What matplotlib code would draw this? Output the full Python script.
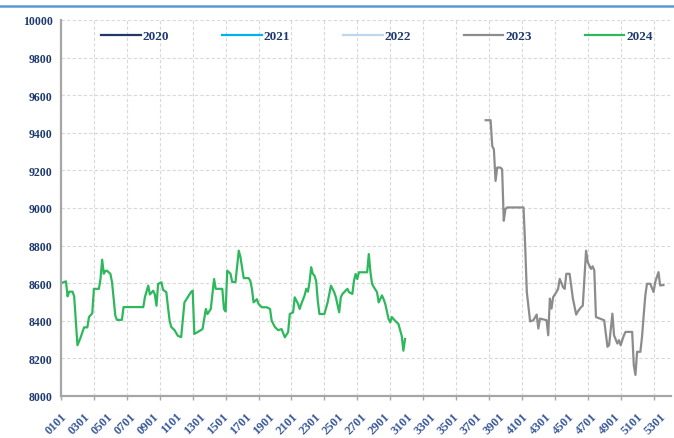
import matplotlib
matplotlib.use("Agg")
import matplotlib.pyplot as plt
from matplotlib.lines import Line2D

# ---------------- data ----------------
years = ["2020", "2021", "2022", "2023", "2024"]
colors = ["#1F3864", "#00B0F0", "#BDD7EE", "#8C8C8C", "#2EB85C"]

# category axis: 53 weeks x 7 days, labelled WWDD
tick_labels = ["0101", "0301", "0501", "0701", "0901", "1101", "1301", "1501",
               "1701", "1901", "2101", "2301", "2501", "2701", "2901", "3101",
               "3301", "3501", "3701", "3901", "4101", "4301", "4501", "4701",
               "4901", "5101", "5301"]
n_days = 371

day_2020, val_2020 = [], []
day_2021, val_2021 = [], []
day_2022, val_2022 = [], []

day_2023 = [258, 261, 262, 263, 264, 265, 267, 268, 269, 270, 271, 281, 282, 283,
            285, 287, 289, 290, 291, 295, 296, 297, 298, 299, 301, 302, 303, 305,
            306, 307, 309, 311, 313, 314, 316, 317, 319, 320, 322, 323, 324, 325,
            330, 332, 333, 335, 336, 338, 339, 340, 341, 342, 343, 347, 348, 349,
            350, 352, 353, 354, 355, 356, 358, 360, 361, 363, 364, 366]
val_2023 = [9467, 9467, 9329, 9312, 9144, 9215, 9215, 9206, 8932, 8994, 9003, 9003,
            8800, 8553, 8397, 8403, 8433, 8359, 8412, 8403, 8323, 8518, 8465, 8526,
            8553, 8570, 8623, 8579, 8570, 8650, 8650, 8518, 8433, 8450, 8473, 8480,
            8773, 8712, 8676, 8690, 8668, 8420, 8403, 8262, 8270, 8438, 8323, 8279,
            8297, 8270, 8297, 8323, 8341, 8341, 8164, 8112, 8235, 8235, 8315, 8429,
            8535, 8597, 8597, 8553, 8606, 8659, 8588, 8590]

day_2024 = [0, 3, 4, 5, 7, 8, 10, 12, 14, 16, 17, 19, 20, 23, 24, 25, 26, 27, 28,
            30, 31, 33, 34, 37, 38, 50, 51, 53, 54, 56, 57, 58, 59, 61, 62, 64, 65,
            66, 67, 69, 71, 73, 75, 77, 79, 80, 81, 83, 86, 88, 89, 91, 93, 94, 98,
            99, 100, 101, 103, 104, 106, 108, 109, 111, 114, 115, 116, 117, 119,
            120, 122, 125, 127, 128, 130, 132, 134, 136, 138, 139, 141, 142, 144,
            145, 146, 148, 149, 150, 151, 152, 153, 154, 155, 156, 157, 160, 162,
            164, 166, 167, 169, 170, 171, 174, 175, 177, 178, 179, 180, 181, 186,
            187, 188, 189, 190, 192, 193, 195, 196, 197, 199, 200, 201, 203, 205,
            207, 208, 209]
val_2024 = [8600, 8610, 8530, 8555, 8555, 8530, 8270, 8313, 8365, 8365, 8420, 8440,
            8570, 8570, 8622, 8725, 8650, 8666, 8666, 8650, 8606, 8427, 8405, 8405,
            8473, 8473, 8527, 8587, 8540, 8560, 8540, 8480, 8596, 8605, 8565, 8552,
            8473, 8400, 8367, 8350, 8320, 8313, 8498, 8525, 8553, 8560, 8330, 8340,
            8356, 8463, 8436, 8463, 8622, 8570, 8570, 8463, 8450, 8667, 8650, 8606,
            8606, 8773, 8740, 8627, 8627, 8613, 8570, 8498, 8515, 8490, 8472, 8472,
            8463, 8400, 8366, 8350, 8356, 8312, 8340, 8436, 8445, 8525, 8490, 8463,
            8490, 8535, 8570, 8555, 8605, 8685, 8650, 8640, 8613, 8507, 8436, 8436,
            8498, 8587, 8552, 8525, 8445, 8525, 8543, 8570, 8552, 8543, 8613, 8649,
            8622, 8658, 8658, 8755, 8658, 8596, 8580, 8552, 8498, 8535, 8515, 8490,
            8410, 8392, 8420, 8400, 8383, 8320, 8241, 8303]

series = [(day_2020, val_2020), (day_2021, val_2021), (day_2022, val_2022),
          (day_2023, val_2023), (day_2024, val_2024)]

y_ticks = list(range(8000, 10001, 200))

# ---------------- figure ----------------
W, H = 674, 439
fig = plt.figure(figsize=(W / 100, H / 100), dpi=100)
ax = fig.add_axes([61 / W, (H - 397) / H, 610 / W, 376 / H])

navy = "#1F3A6E"
xnavy = "#3A5A9A"
for (d, v), c, yr in zip(series, colors, years):
    ax.plot(d, v, color=c, lw=1.6, label=yr, solid_joinstyle="round")

ax.set_xlim(0, 370.6)
ax.set_ylim(8000, 10000)

# gridline ticks every 20 categories, labels every 14 categories (2 weeks)
ax.xaxis.remove_overlapping_locs = False
ax.set_xticks(range(0, n_days, 20))
ax.set_xticklabels([])
label_pos = [(int(t[:2]) - 1) * 7 for t in tick_labels]
ax.set_xticks(label_pos, minor=True)
ax.set_xticklabels(tick_labels, minor=True, rotation=45, ha="right", va="top",
                   rotation_mode="anchor", fontsize=9, color=xnavy,
                   family="Liberation Serif", fontweight="bold")
ax.tick_params(axis="x", which="minor", length=0, pad=10)
ax.tick_params(axis="x", which="major", length=3, color="#A6A6A6", width=1)

ax.set_yticks(y_ticks)
ax.set_yticklabels([str(t) for t in y_ticks], fontsize=8.5, color=navy,
                   family="Liberation Serif", fontweight="bold")
ax.tick_params(axis="y", length=0, pad=6)

ax.grid(True, which="major", axis="both", color="#D9D9D9", ls=(0, (3, 2)), lw=0.8)
ax.set_axisbelow(True)

for s in ["top", "right"]:
    ax.spines[s].set_visible(False)
for s in ["left", "bottom"]:
    ax.spines[s].set_color("#A6A6A6")
    ax.spines[s].set_linewidth(1.6)

leg = ax.legend(ncol=5, loc="center", bbox_to_anchor=(0.518, 0.957),
                frameon=False, handlelength=3.0, handletextpad=0.15,
                columnspacing=4.0, prop={"family": "Liberation Serif",
                                         "weight": "bold", "size": 9.5})
for t in leg.get_texts():
    t.set_color(navy)

# top blue rule
fig.add_artist(Line2D([0, 1], [1 - 7 / H, 1 - 7 / H], transform=fig.transFigure,
                      color="#5B9BD5", lw=1.8))

fig.savefig("out.png", dpi=100)
